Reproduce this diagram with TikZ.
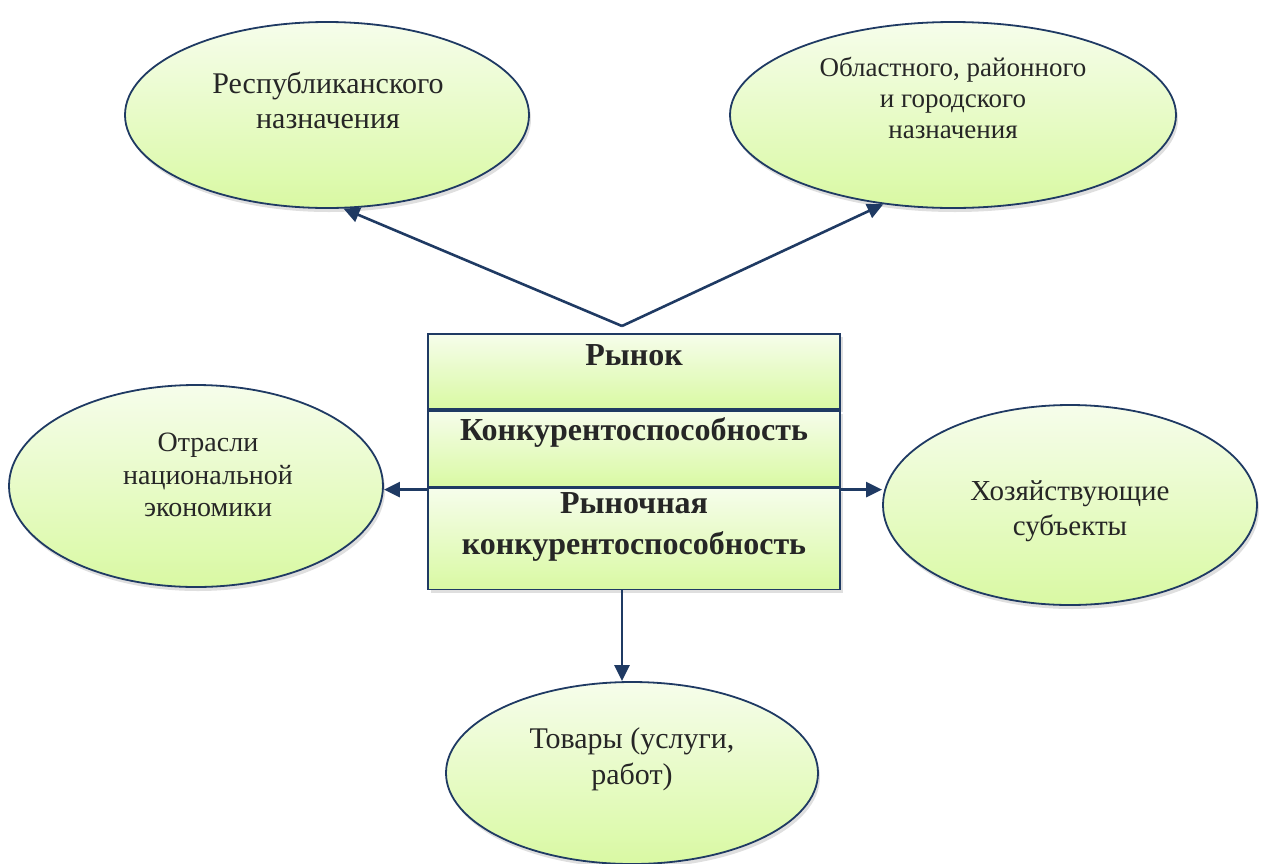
\documentclass[tikz,border=0pt]{standalone}
\usepackage{fontspec}
\setmainfont{Liberation Serif}
\usetikzlibrary{shapes.geometric,arrows.meta,shadows,calc}
\definecolor{navy}{HTML}{1F3A63}
\definecolor{ink}{HTML}{262626}
\definecolor{paletop}{HTML}{F6FDEB}
\definecolor{palebot}{HTML}{D9F9A3}
\tikzset{
  x=1pt, y=-1pt,
  oval/.style={ellipse, draw=navy, line width=1.8pt, top color=paletop, bottom color=palebot,
    inner sep=0pt, drop shadow={shadow xshift=2pt, shadow yshift=-4pt, opacity=0.25}},
  cell/.style={rectangle, draw=navy, line width=1.8pt, top color=paletop, bottom color=palebot,
    inner sep=0pt, minimum width=412pt, drop shadow={shadow xshift=3pt, shadow yshift=-3pt, opacity=0.25}},
  lbl/.style={text=ink, align=center, inner sep=0pt},
  hdr/.style={text=ink, align=center, inner sep=0pt, font=\bfseries\fontsize{32}{41}\selectfont},
  arr/.style={draw=navy, line width=2.6pt, -{Triangle[length=16pt,width=15pt]}},
}
\begin{document}
\begin{tikzpicture}
\useasboundingbox (0,0) rectangle (1264,863);

% outer ellipses
\node[oval, minimum width=404pt, minimum height=186pt] (e1) at (327,115) {};
\node[oval, minimum width=446pt, minimum height=186pt] (e2) at (953,115) {};
\node[oval, minimum width=374pt, minimum height=202pt] (e3) at (196,486) {};
\node[oval, minimum width=374pt, minimum height=200pt] (e4) at (1070,505) {};
\node[oval, minimum width=372pt, minimum height=182pt] (e5) at (632,773) {};

% ellipse labels
\node[lbl, font=\fontsize{30}{35}\selectfont] (l1) at (328,100) {Республиканского\\назначения};
\node[lbl, font=\fontsize{27}{31}\selectfont] (l2) at (953,98) {Областного, районного\\и городского\\назначения};
\node[lbl, font=\fontsize{28}{32.5}\selectfont] (l3) at (208,475) {Отрасли\\национальной\\экономики};
\node[lbl, font=\fontsize{29}{35}\selectfont] (l4) at (1070,511) {Хозяйствующие\\субъекты};
\node[lbl, font=\fontsize{30}{36}\selectfont] (l5) at (632,759) {Товары (услуги,\\работ)};

% central three-part box
\node[cell, minimum height=75pt, anchor=north] (s1) at (634,333) {};
\node[cell, minimum height=76pt, anchor=north] (s2) at (s1.south) {};
\node[cell, minimum height=101pt, anchor=north] (s3) at (s2.south) {};
\node[hdr] (h1) at (634,355) {Рынок};
\node[hdr] (h2) at (634,432) {Конкурентоспособность};
\node[hdr] (h3) at (634,527) {Рыночная\\конкурентоспособность};

% connector end points
\coordinate (apex) at (622,326);
\coordinate (hl) at ($(s3.north west)+(0,2)$);
\coordinate (hr) at ($(s3.north east)+(0,2)$);
\coordinate (dn) at ($(s3.south)+(-12,0)$);

% connectors
\draw[arr] (apex) -- (e1.-80);
\draw[arr] (apex) -- (e2.232);
\draw[arr] (hl) -- (hl -| e3.east);
\draw[arr] (hr) -- (hr -| e4.west);
\draw[arr] (dn) -- (dn |- e5.north);
\end{tikzpicture}
\end{document}
